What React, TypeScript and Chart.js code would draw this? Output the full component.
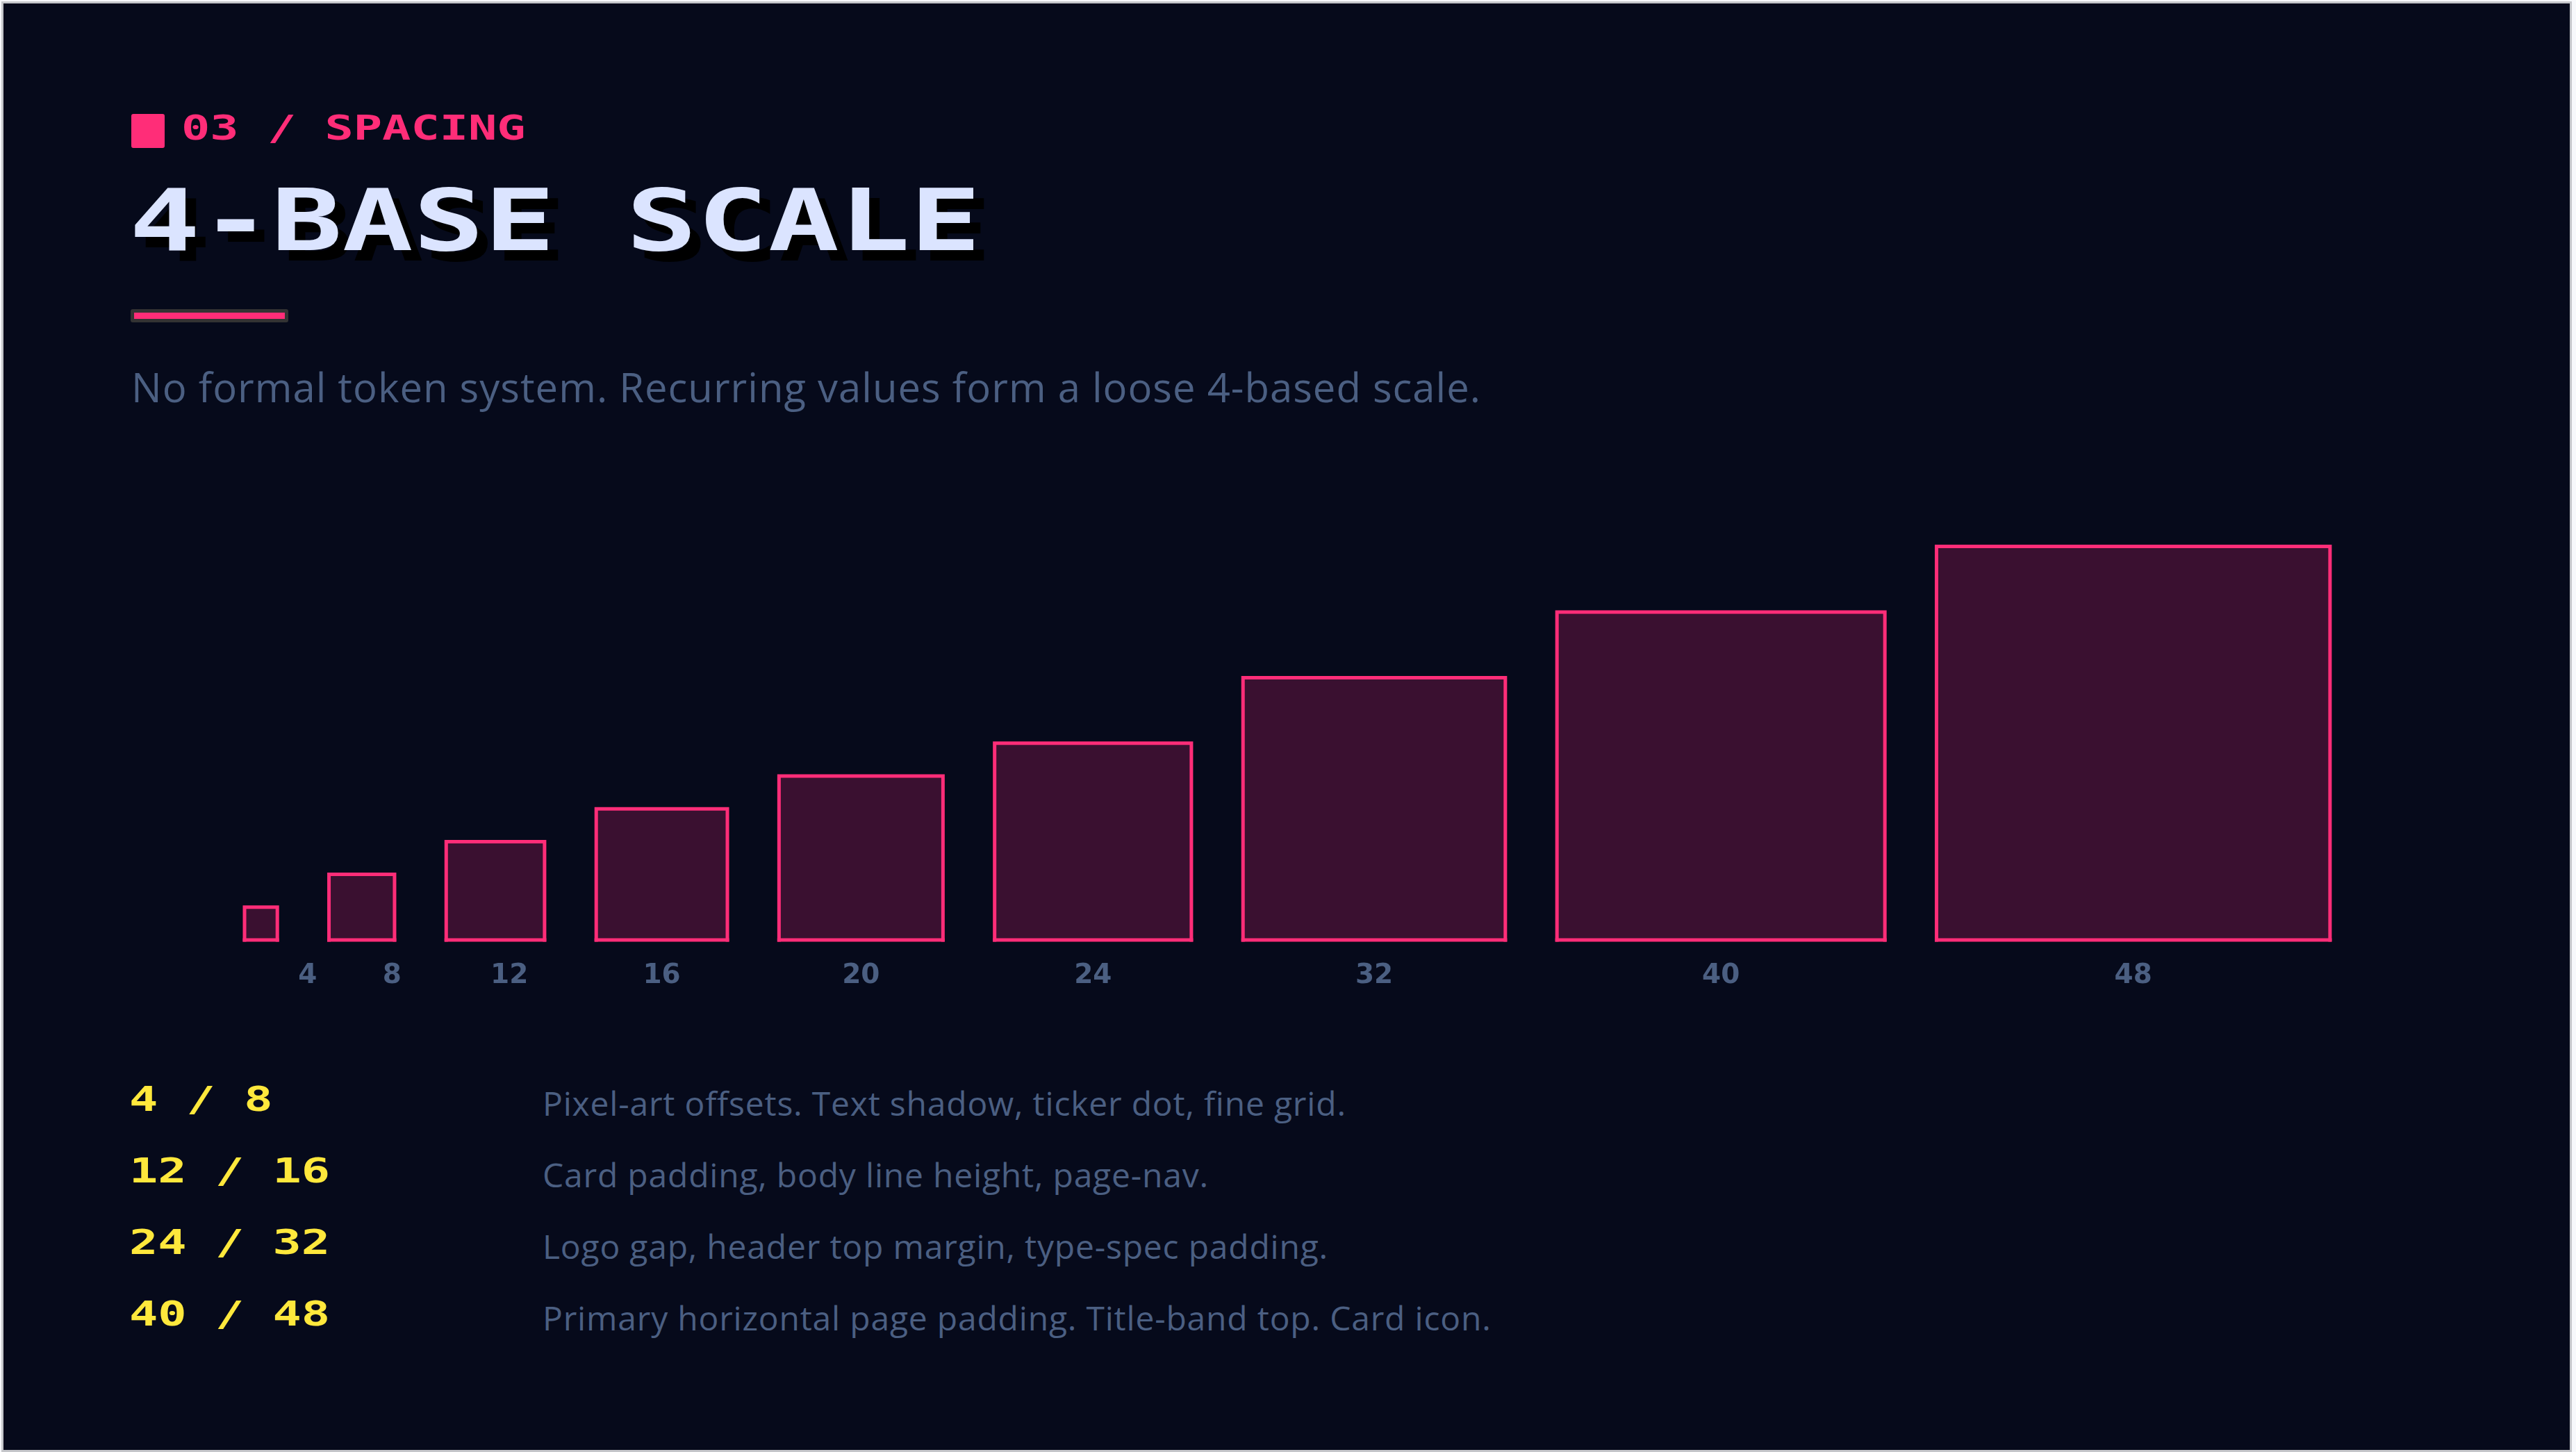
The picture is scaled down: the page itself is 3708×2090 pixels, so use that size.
import React, { useEffect, useRef } from 'react';
import { Chart, registerables } from 'chart.js';

Chart.register(...registerables);

// ---- data ----
const SIZES = [4, 8, 12, 16, 20, 24, 32, 40, 48];
const SIZE_LABELS = ['4', '8', '12', '16', '20', '24', '32', '40', '48'];
const ROW_VALUES = ['4 / 8', '12 / 16', '24 / 32', '40 / 48'];
const ROW_NOTES = [
  'Pixel-art offsets. Text shadow, ticker dot, fine grid.',
  'Card padding, body line height, page-nav.',
  'Logo gap, header top margin, type-spec padding.',
  'Primary horizontal page padding. Title-band top. Card icon.',
];
const KICKER = '03 / SPACING';
const TITLE = '4-BASE SCALE';
const SUBTITLE = 'No formal token system. Recurring values form a loose 4-based scale.';

// ---- layout constants (in scale units) ----
const GAP = 6.3;
const LABEL_MIN = 15.4;
const PX = 11.8;
const X_MIN = -5;
const X_MAX = 260;
const Y_MAX = 50;
const AXIS_H = 100;

const BG = '#060a1b';
const PINK = '#ff2d78';
const FILL = '#3a1030';
const SLATE = '#4b5f82';
const YELLOW = '#ffe83c';
const TITLE_C = '#dbe4ff';

const starts: number[] = [];
{
  let acc = 0;
  SIZES.forEach((s) => {
    starts.push(acc);
    acc += s + GAP;
  });
}
const tickPos = SIZES.map((s, i) => starts[i] + Math.max(s, LABEL_MIN) / 2);

const CANVAS_W = Math.round((X_MAX - X_MIN) * PX);
const CANVAS_H = Math.round(Y_MAX * PX) + AXIS_H;

const mono = (size: number, scale: number): React.CSSProperties => ({
  position: 'absolute',
  fontFamily: '"DejaVu Sans Mono", monospace',
  fontWeight: 700,
  fontSize: size,
  lineHeight: `${size}px`,
  transform: `scaleX(${scale})`,
  transformOrigin: 'left top',
  whiteSpace: 'pre',
  margin: 0,
});

const sans = (size: number, spacing: number): React.CSSProperties => ({
  position: 'absolute',
  fontFamily: '"Open Sans", "Noto Sans", sans-serif',
  fontWeight: 400,
  fontSize: size,
  lineHeight: `${size}px`,
  letterSpacing: spacing,
  whiteSpace: 'pre',
  color: SLATE,
  margin: 0,
});

export default function App() {
  const ref = useRef<HTMLCanvasElement>(null);

  useEffect(() => {
    const canvas = ref.current;
    if (!canvas) return;

    // bottom edges of every square (drawn last, on top)
    const baseData: { x: number; y: number | null }[] = [];
    SIZES.forEach((s, i) => {
      baseData.push({ x: starts[i], y: 0 });
      baseData.push({ x: starts[i] + s, y: 0 });
      baseData.push({ x: starts[i] + s + GAP / 2, y: null });
    });

    const baseline = {
      type: 'line' as const,
      label: 'base',
      data: baseData,
      borderColor: PINK,
      borderWidth: 5,
      borderCapStyle: 'square' as const,
      fill: false,
      spanGaps: false,
      pointRadius: 0,
      pointHoverRadius: 0,
      tension: 0,
      clip: false as const,
    };

    const squares = SIZES.map((s, i) => {
      const x0 = starts[i];
      const x1 = x0 + s;
      return {
        type: 'line' as const,
        label: SIZE_LABELS[i],
        data: [
          { x: x0, y: 0 },
          { x: x0, y: s },
          { x: x1, y: s },
          { x: x1, y: 0 },
        ],
        borderColor: PINK,
        backgroundColor: FILL,
        borderWidth: 5,
        borderJoinStyle: 'miter' as const,
        borderCapStyle: 'square' as const,
        fill: 'origin',
        pointRadius: 0,
        pointHoverRadius: 0,
        tension: 0,
        clip: false as const,
      };
    });

    const chart = new Chart(canvas, {
      type: 'line',
      data: { datasets: [baseline, ...squares] as any },
      options: {
        animation: false,
        responsive: false,
        maintainAspectRatio: false,
        devicePixelRatio: 1,
        layout: { padding: 0, autoPadding: false },
        plugins: {
          legend: { display: false },
          tooltip: { enabled: false },
        },
        events: [],
        scales: {
          x: {
            type: 'linear',
            min: X_MIN,
            max: X_MAX,
            offset: false,
            grid: { display: false, drawTicks: false },
            border: { display: false },
            afterFit: (scale: any) => {
              scale.height = AXIS_H;
            },
            afterBuildTicks: (axis: any) => {
              axis.ticks = tickPos.map((v) => ({ value: v }));
            },
            ticks: {
              autoSkip: false,
              maxRotation: 0,
              minRotation: 0,
              padding: 28,
              color: SLATE,
              font: { family: '"DejaVu Sans", sans-serif', weight: 'bold', size: 39 },
              callback: (_v: any, index: number) => SIZE_LABELS[index],
            },
          },
          y: {
            type: 'linear',
            display: false,
            min: 0,
            max: Y_MAX,
          },
        },
      } as any,
    });
    return () => chart.destroy();
  }, []);

  return (
    <div
      style={{
        position: 'fixed',
        left: 0,
        top: 0,
        width: 3708,
        height: 2090,
        background: '#f7f8fb',
        overflow: 'hidden',
      }}
    >
      <div
        style={{
          position: 'absolute',
          left: 2,
          top: 2,
          width: 3700,
          height: 2088,
          boxSizing: 'border-box',
          border: '3px solid #c5c6ca',
          background: BG,
        }}
      />
      {/* kicker */}
      <div
        style={{
          position: 'absolute',
          left: 189,
          top: 164,
          width: 48,
          height: 49,
          borderRadius: 3,
          background: PINK,
        }}
      />
      <div style={{ ...mono(49, 1.4), left: 261, top: 160, color: PINK }}>{KICKER}</div>
      {/* title */}
      <div
        style={{
          ...mono(123, 1.38),
          left: 186,
          top: 256,
          color: TITLE_C,
          textShadow: '11px 15px 0 #000',
        }}
      >
        {TITLE}
      </div>
      <div
        style={{
          position: 'absolute',
          left: 188,
          top: 445,
          width: 227,
          height: 19,
          boxSizing: 'border-box',
          border: '5px solid #333333',
          borderRadius: 3,
          background: PINK,
        }}
      />
      <div style={{ ...sans(58, 1), left: 189, top: 528 }}>{SUBTITLE}</div>

      {/* chart */}
      <canvas
        ref={ref}
        width={CANVAS_W}
        height={CANVAS_H}
        style={{
          position: 'absolute',
          left: 293,
          top: 763,
          width: CANVAS_W,
          height: CANVAS_H,
        }}
      />

      {/* rows */}
      {ROW_VALUES.map((v, i) => (
        <div key={'v' + i} style={{ ...mono(49, 1.4), left: 186, top: 1558 + i * 103, color: YELLOW }}>
          {v}
        </div>
      ))}
      {ROW_NOTES.map((t, i) => (
        <div key={'n' + i} style={{ ...sans(48, 0.8), left: 781, top: 1564 + i * 103 }}>
          {t}
        </div>
      ))}
    </div>
  );
}
